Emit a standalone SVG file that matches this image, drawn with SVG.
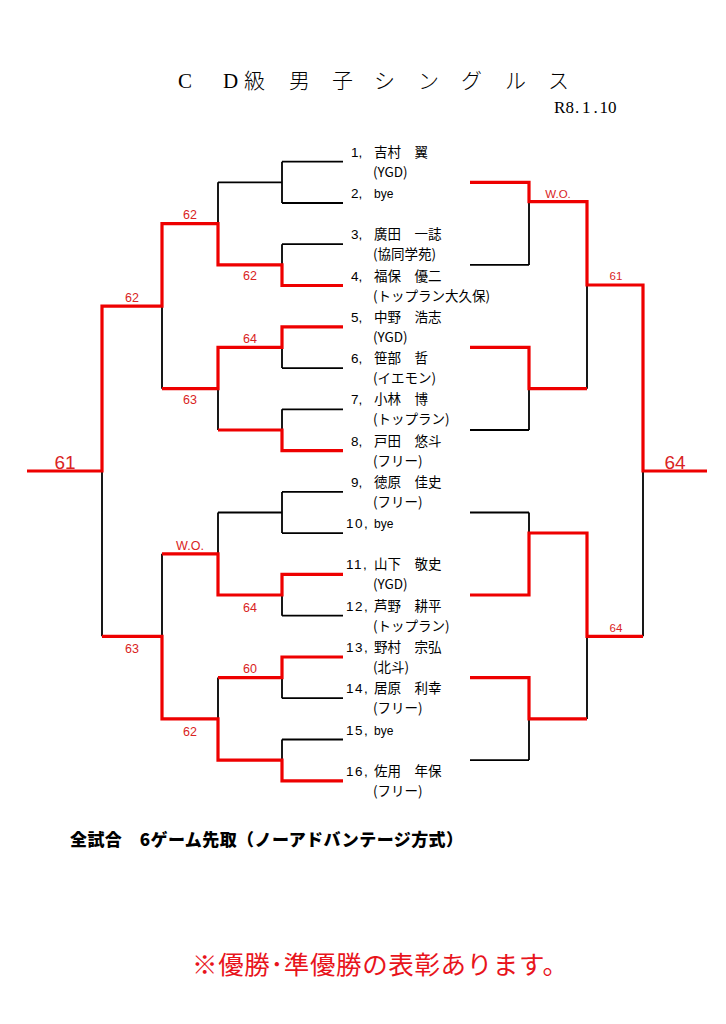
<svg xmlns="http://www.w3.org/2000/svg" width="726" height="1024" viewBox="0 0 726 1024">
<style>
.k{stroke:#000;stroke-width:1.8;fill:none}
.r{stroke:#ee0000;stroke-width:3.2;fill:none;stroke-linejoin:miter}
.num{font-family:"Liberation Sans","Noto Sans CJK JP",sans-serif;font-size:13.5px;fill:#000}
.nm{font-family:"Noto Sans CJK JP",sans-serif;font-size:13.5px;fill:#000}
.cl{font-family:"Noto Sans CJK JP",sans-serif;font-size:13.5px;fill:#000}
.bye{font-family:"Liberation Sans",sans-serif;font-size:12px;fill:#000}
.sc{font-family:"Liberation Sans",sans-serif;font-size:12.5px;fill:#d92323;text-anchor:middle}
.scr{font-family:"Liberation Sans",sans-serif;font-size:11.5px;fill:#d92323;text-anchor:middle}
.fin{font-family:"Liberation Sans",sans-serif;font-size:19px;fill:#d92323;text-anchor:middle}
</style>
<rect width="726" height="1024" fill="#fff"/>
<g id="title">
<text font-family="'Liberation Serif','Noto Sans CJK JP',serif" font-size="21" font-weight="300" fill="#000" y="88" x="178 200 223 244 266 289 310 332 353 374 396 418 439 461 483 505 527 548">C　D級　男　子　シ　ン　グ　ル　ス</text>
<text font-family="'Liberation Serif',serif" font-size="17" fill="#000" y="113" x="554 565.5 575 582 593.5 599.5 608">R8.1.10</text>
</g>
<g id="connectors">
<path class="k" d="M282,161.7H343M282,203H343M282,244.2H343M282,368.1H343M282,409.3H343M282,491.9H343M282,533.1H343M282,615.7H343M282,698.2H343M282,739.5H343"/>
<path class="k" d="M282,161.7V203M282,244.2V264.9M282,347.4V368.1M282,409.3V430M282,491.9V533.1M282,595V615.7M282,677.6V698.2M282,739.5V760.1"/>
<path class="k" d="M218,182.3H282M218,512.5H282M218,182.3V223.6M218,388.7V430M218,512.5V553.8M218,677.6V718.9M162,306.2V388.7M162,553.8V636.3M102,471V636.3"/>
<path class="k" d="M470,264.9H529M470,430H529M470,512.5H529M470,760.1H529M529,201.7V264.9M529,388.7V430M529,512.5V533M529,718.9V760.1M587,285V388.7M587,636.3V718.9M643,471V636.3"/>
<path class="r" d="M343,285.5H282V264.9H218V223.6H162V306.2H102V471H27"/>
<path class="r" d="M343,326.8H282V347.4H218V388.7H162"/>
<path class="r" d="M343,450.6H282V430H218"/>
<path class="r" d="M343,574.4H282V595H218V553.8H162"/>
<path class="r" d="M343,657H282V677.6H218"/>
<path class="r" d="M343,780.8H282V760.1H218V718.9H162V636.3H102"/>
<path class="r" d="M470,182.3H529V201.7H587V285H643V471H707"/>
<path class="r" d="M470,347.4H529V388.7H587"/>
<path class="r" d="M470,595H529V533H587V636.3H643"/>
<path class="r" d="M470,677.6H529V718.9H587"/>
</g>
<g id="scores">
<text class="sc" x="190" y="218.5">62</text>
<text class="sc" x="250" y="280">62</text>
<text class="sc" x="132" y="301.5">62</text>
<text class="sc" x="250" y="343">64</text>
<text class="sc" x="190" y="404">63</text>
<text class="fin" x="65" y="469">61</text>
<text class="sc" x="190" y="550">W.O.</text>
<text class="sc" x="250" y="611.5">64</text>
<text class="sc" x="132" y="653">63</text>
<text class="sc" x="250" y="673">60</text>
<text class="sc" x="190" y="735.5">62</text>
<text class="scr" x="558" y="198" font-size="10.5">W.O.</text>
<text class="scr" x="616" y="280">61</text>
<text class="scr" x="616" y="631.5">64</text>
<text class="fin" x="675" y="468.5">64</text>
</g>
<g id="p1"><text class="num" x="351" y="156.7">1,</text><text class="nm" x="374" y="156.7">吉村　翼</text><text class="cl" x="373" y="176.7">(YGD)</text></g>
<g id="p2"><text class="num" x="351" y="198">2,</text><text class="bye" x="374" y="198">bye</text></g>
<g id="p3"><text class="num" x="351" y="239.2">3,</text><text class="nm" x="374" y="239.2">廣田　一誌</text><text class="cl" x="373" y="259.2">(協同学苑)</text></g>
<g id="p4"><text class="num" x="351" y="280.5">4,</text><text class="nm" x="374" y="280.5">福保　優二</text><text class="cl" x="373" y="300.5">(トップラン大久保)</text></g>
<g id="p5"><text class="num" x="351" y="321.8">5,</text><text class="nm" x="374" y="321.8">中野　浩志</text><text class="cl" x="373" y="341.8">(YGD)</text></g>
<g id="p6"><text class="num" x="351" y="363.1">6,</text><text class="nm" x="374" y="363.1">笹部　哲</text><text class="cl" x="373" y="383.1">(イエモン)</text></g>
<g id="p7"><text class="num" x="351" y="404.3">7,</text><text class="nm" x="374" y="404.3">小林　博</text><text class="cl" x="373" y="424.3">(トップラン)</text></g>
<g id="p8"><text class="num" x="351" y="445.6">8,</text><text class="nm" x="374" y="445.6">戸田　悠斗</text><text class="cl" x="373" y="465.6">(フリー)</text></g>
<g id="p9"><text class="num" x="351" y="486.9">9,</text><text class="nm" x="374" y="486.9">徳原　佳史</text><text class="cl" x="373" y="506.9">(フリー)</text></g>
<g id="p10"><text class="num" x="346" y="528.1" letter-spacing="1.5">10,</text><text class="bye" x="374" y="528.1">bye</text></g>
<g id="p11"><text class="num" x="346" y="569.4" letter-spacing="1.5">11,</text><text class="nm" x="374" y="569.4">山下　敬史</text><text class="cl" x="373" y="589.4">(YGD)</text></g>
<g id="p12"><text class="num" x="346" y="610.7" letter-spacing="1.5">12,</text><text class="nm" x="374" y="610.7">芦野　耕平</text><text class="cl" x="373" y="630.7">(トップラン)</text></g>
<g id="p13"><text class="num" x="346" y="652" letter-spacing="1.5">13,</text><text class="nm" x="374" y="652">野村　宗弘</text><text class="cl" x="373" y="672">(北斗)</text></g>
<g id="p14"><text class="num" x="346" y="693.2" letter-spacing="1.5">14,</text><text class="nm" x="374" y="693.2">居原　利幸</text><text class="cl" x="373" y="713.2">(フリー)</text></g>
<g id="p15"><text class="num" x="346" y="734.5" letter-spacing="1.5">15,</text><text class="bye" x="374" y="734.5">bye</text></g>
<g id="p16"><text class="num" x="346" y="775.8" letter-spacing="1.5">16,</text><text class="nm" x="374" y="775.8">佐用　年保</text><text class="cl" x="373" y="795.8">(フリー)</text></g>
<g id="notes">
<text x="70" y="846" font-family="'Noto Sans CJK JP',sans-serif" font-size="17" font-weight="900" fill="#000" textLength="393" lengthAdjust="spacing">全試合　6ゲーム先取（ノーアドバンテージ方式）</text>
<text x="192" y="974" font-family="'Noto Sans CJK JP',sans-serif" font-size="25.5" fill="#e8141c" textLength="376" lengthAdjust="spacing">※優勝･準優勝の表彰あります。</text>
</g>
</svg>
